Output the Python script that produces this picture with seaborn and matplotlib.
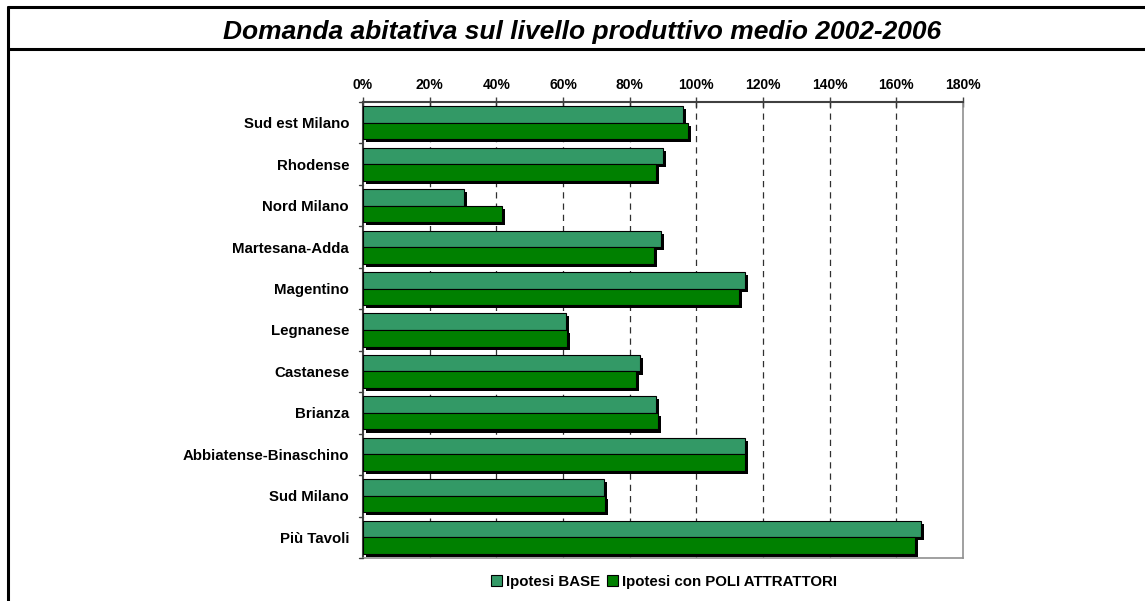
import pandas as pd
import matplotlib.pyplot as plt
import matplotlib.patheffects as pe
from matplotlib.ticker import PercentFormatter
from matplotlib.lines import Line2D
from matplotlib.patches import Patch
import seaborn as sns

# data (share of the average 2002-2006 production level)
areas = ['Sud est Milano', 'Rhodense', 'Nord Milano', 'Martesana-Adda', 'Magentino',
         'Legnanese', 'Castanese', 'Brianza', 'Abbiatense-Binaschino', 'Sud Milano',
         'Più Tavoli']
base = [0.959, 0.899, 0.303, 0.895, 1.146, 0.610, 0.831, 0.878, 1.146, 0.724, 1.675]
poli = [0.974, 0.879, 0.417, 0.873, 1.127, 0.613, 0.819, 0.885, 1.145, 0.727, 1.656]
series = ['Ipotesi BASE', 'Ipotesi con POLI ATTRATTORI']
colors = ['#339966', '#008000']

df = pd.DataFrame({
    'area': areas * 2,
    'valore': base + poli,
    'serie': [series[0]] * len(areas) + [series[1]] * len(areas),
})

sns.set_style('white')
plt.rcParams['font.family'] = ['Liberation Sans', 'DejaVu Sans']
plt.rcParams['text.color'] = 'black'
plt.rcParams['xtick.color'] = 'black'
plt.rcParams['ytick.color'] = 'black'

fig = plt.figure(figsize=(11.45, 6.01), dpi=100)
ax = fig.add_axes([363 / 1145, 1 - 558 / 601, 600 / 1145, 456 / 601])

sns.barplot(data=df, y='area', x='valore', hue='serie', orient='h',
            palette=colors, saturation=1, width=0.8, edgecolor='black', linewidth=0.8,
            ax=ax, legend=False, zorder=3)

shadow = [pe.SimplePatchShadow(offset=(2.2, -2.2), shadow_rgbFace='black', alpha=1.0),
          pe.Normal()]
for p in ax.patches:
    p.set_path_effects(shadow)

ax.set_xlim(0, 1.8)
ax.set_ylim(10.5, -0.5)
ax.xaxis.set_major_formatter(PercentFormatter(1.0, decimals=0))
ax.set_xticks([i * 0.2 for i in range(10)])
ax.xaxis.tick_top()
ax.tick_params(axis='x', direction='inout', length=7, width=1, color='#404040',
               labelsize=10, pad=4)
for lbl in ax.get_xticklabels():
    lbl.set_fontweight('bold')
ax.set_yticks(range(len(areas)))
ax.set_yticklabels(areas, fontsize=10.8, fontweight='bold')
ax.tick_params(axis='y', length=0, pad=10)
# small ticks between categories on the left axis
for k in range(len(areas) + 1):
    ax.plot([-0.012, 0], [k - 0.5, k - 0.5], color='#404040', lw=1,
            clip_on=False, zorder=5)
ax.set_xlabel('')
ax.set_ylabel('')

for x in [i * 0.2 for i in range(1, 9)]:
    ax.axvline(x, color='#303030', lw=0.9, linestyle=(0, (5, 4)), zorder=1)

for side in ['top', 'left']:
    ax.spines[side].set_color('#404040')
    ax.spines[side].set_linewidth(1.5)
for side in ['right', 'bottom']:
    ax.spines[side].set_color('#909090')
    ax.spines[side].set_linewidth(1.2)

handles = [Patch(facecolor=c, edgecolor='black', linewidth=0.8, label=s)
           for c, s in zip(colors, series)]
fig.legend(handles=handles, loc='center', bbox_to_anchor=(664 / 1145, 1 - 582 / 601),
           ncol=2, frameon=False, prop={'weight': 'bold', 'size': 10.8},
           handlelength=0.75, handleheight=0.75, handletextpad=0.3, columnspacing=0.4)

fig.text(582 / 1145, 1 - 32 / 601, 'Domanda abitativa sul livello produttivo medio 2002-2006',
         ha='center', va='center', fontsize=19, fontweight='bold', fontstyle='italic')

# outer frame like the original spreadsheet chart box
fig.add_artist(Line2D([8 / 1145, 8 / 1145], [0, 1 - 7 / 601], color='black', lw=2.2))
fig.add_artist(Line2D([8 / 1145, 1], [1 - 7 / 601, 1 - 7 / 601], color='black', lw=2.2))
fig.add_artist(Line2D([8 / 1145, 1], [1 - 49 / 601, 1 - 49 / 601], color='black', lw=2.2))

fig.savefig('out.png', dpi=100)
